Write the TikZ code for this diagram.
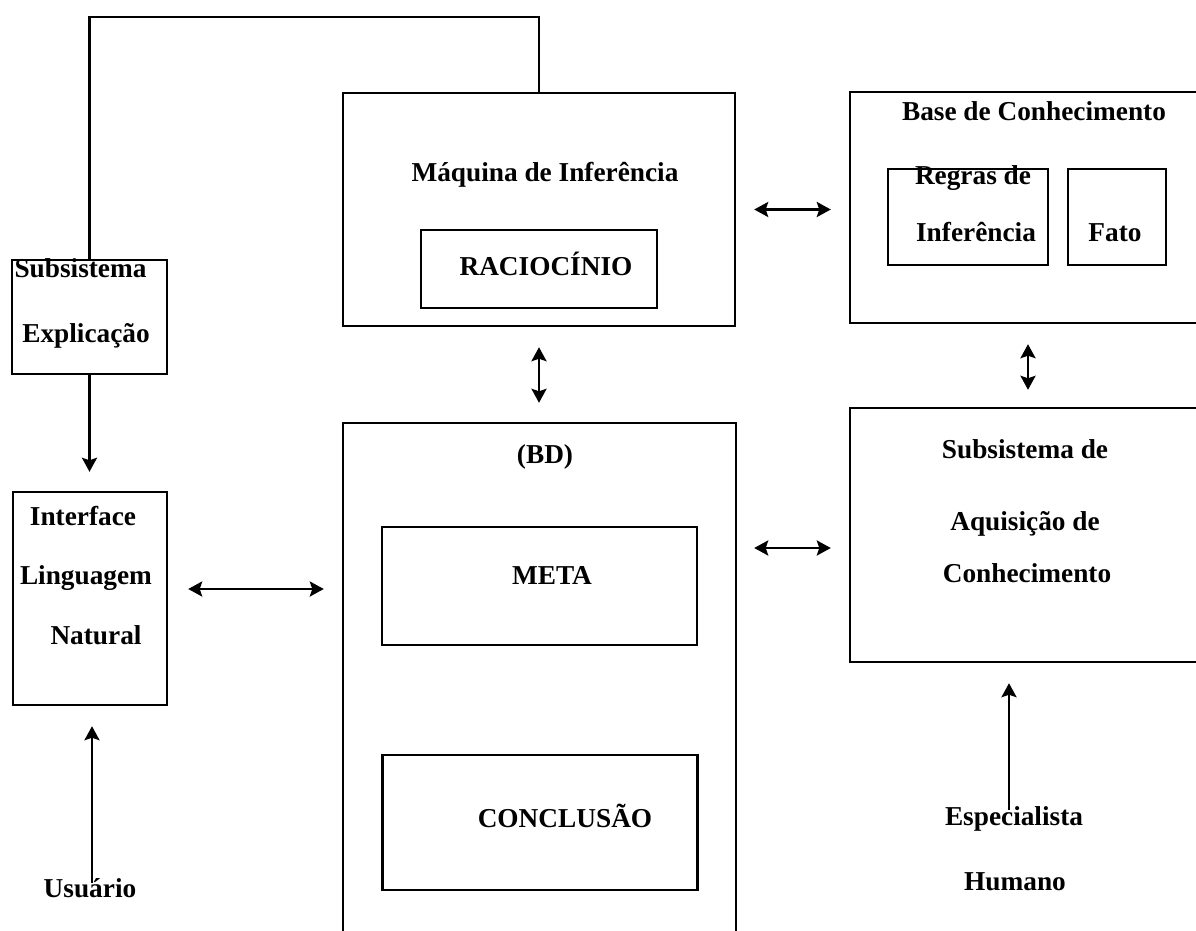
\documentclass[tikz,border=0pt]{standalone}
\usepackage{fontspec}
\setmainfont{Liberation Serif}
\usetikzlibrary{arrows.meta}
\begin{document}
\begin{tikzpicture}[x=1pt,y=-1pt,
  box/.style={draw, line width=2.4pt, rectangle, inner sep=0pt},
  lbl/.style={anchor=base, inner sep=0pt, font=\fontsize{27.3}{32}\selectfont\bfseries},
  link/.style={line width=2.6pt},
  head/.tip={Stealth[length=14pt,width=15pt,inset=2.5pt]},
  tip/.style={-head},
  both/.style={head-head}]
\useasboundingbox (0,0) rectangle (1196,931);

% main blocks
\node[box, minimum width=392pt, minimum height=233pt] (maq)    at (539,209.5) {};
\node[box, minimum width=236pt, minimum height=78pt]  (rac)    at (539,269) {};
\node[box, minimum width=360pt, minimum height=231pt] (base)   at (1030,207.5) {};
\node[box, minimum width=160pt, minimum height=96pt]  (regras) at (968,217) {};
\node[box, minimum width=98pt,  minimum height=96pt]  (fato)   at (1117,217) {};
\node[box, minimum width=155pt, minimum height=114pt] (expl)   at (89.5,317) {};
\node[box, minimum width=154pt, minimum height=213pt] (iface)  at (90,598.5) {};
\node[box, minimum width=393pt, minimum height=522pt] (bd)     at (539.5,684) {};
\node[box, minimum width=315pt, minimum height=118pt] (meta)   at (539.5,586) {};
\node[box, minimum width=315pt, minimum height=135pt] (concl)  at (540,822.5) {};
\node[box, minimum width=360pt, minimum height=254pt] (aquis)  at (1030,535) {};

% labels
\node[lbl] (tmaq)   at (545,181)  {Máquina de Inferência};
\node[lbl] (trac)   at (546,275)  {RACIOCÍNIO};
\node[lbl] (tbase)  at (1034,121) {Base de Conhecimento};
\node[lbl] (treg1)  at (973,184)  {Regras de};
\node[lbl] (treg2)  at (976,241)  {Inferência};
\node[lbl] (tfato)  at (1115,241) {Fato};
\node[lbl] (texp1)  at (80.5,277) {Subsistema};
\node[lbl] (texp2)  at (86,342)   {Explicação};
\node[lbl] (tif1)   at (83,525)   {Interface};
\node[lbl] (tif2)   at (86,584)   {Linguagem};
\node[lbl] (tif3)   at (96,644)   {Natural};
\node[lbl] (tusu)   at (90,897)   {Usuário};
\node[lbl] (tbd)    at (545,463)  {(BD)};
\node[lbl] (tmeta)  at (552,584)  {META};
\node[lbl] (tconc)  at (565,827)  {CONCLUSÃO};
\node[lbl] (taq1)   at (1025,458) {Subsistema de};
\node[lbl] (taq2)   at (1025,530) {Aquisição de};
\node[lbl] (taq3)   at (1027,582) {Conhecimento};
\node[lbl] (tesp1)  at (1014,825) {Especialista};
\node[lbl] (tesp2)  at (1015,890) {Humano};

% connectors
\coordinate (topline) at (300,17);
\coordinate (usr) at (92,883);
\coordinate (esp) at (1009,810);

\draw[link] (expl.north) -- (expl.north |- topline) -| (maq.north);
\draw[link,tip,shorten >=19pt] (expl.south) -- (expl.south |- iface.north);
\draw[link,tip,shorten >=20pt] (usr) -- (usr |- iface.south);
\draw[link,tip,shorten >=20pt] (esp) -- (esp |- aquis.south);

\draw[link,both,shorten <=18pt,shorten >=18pt] (maq.east) -- (maq.east -| base.west);
\draw[link,both,shorten <=20pt,shorten >=19pt] (maq.south) -- (maq.south |- bd.north);
\draw[link,both,shorten <=20pt,shorten >=17pt] ([xshift=-2pt]base.south) -- ([xshift=-2pt]base.south |- aquis.north);
\draw[link,both,shorten <=20pt,shorten >=18pt] ([yshift=9.5pt]iface.east) -- ([yshift=9.5pt]iface.east -| bd.west);
\draw[link,both,shorten <=18pt,shorten >=17pt] ([yshift=-13pt]aquis.west) -- ([yshift=-13pt]aquis.west -| bd.east);
\end{tikzpicture}
\end{document}
